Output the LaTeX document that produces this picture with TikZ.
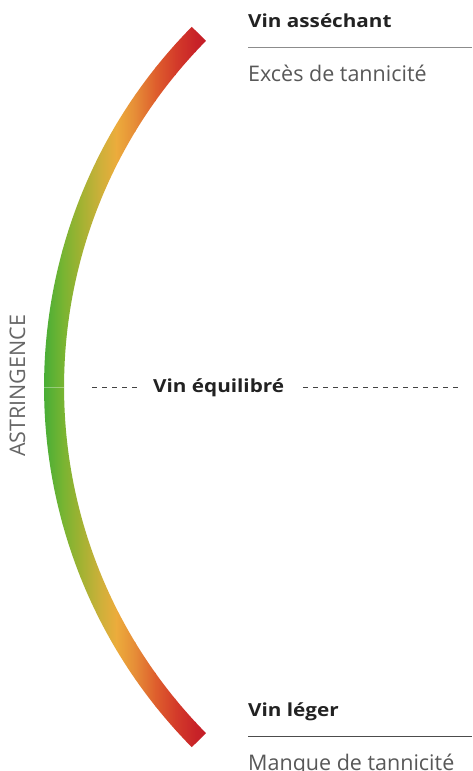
\documentclass[tikz,border=0pt]{standalone}
\usepackage{fontspec}
\setmainfont{Open Sans}
\newfontfamily\headfont{Open Sans}[FakeStretch=1.15]
\usetikzlibrary{calc}
\definecolor{ga}{RGB}{58,172,55}
\definecolor{gb}{RGB}{118,180,50}
\definecolor{gc}{RGB}{160,178,50}
\definecolor{gd}{RGB}{205,176,58}
\definecolor{ge}{RGB}{236,172,60}
\definecolor{gf}{RGB}{230,140,55}
\definecolor{gg}{RGB}{222,95,45}
\definecolor{gh}{RGB}{212,60,42}
\definecolor{gi}{RGB}{200,35,40}
\definecolor{gj}{RGB}{192,25,38}
\definecolor{darktxt}{RGB}{34,34,34}
\definecolor{lighttxt}{RGB}{88,88,88}
\tikzset{
  headtxt/.style={anchor=base west, inner sep=0pt, text=darktxt, font=\fontsize{18}{22}\headfont\bfseries},
  subtxt/.style={anchor=base west, inner sep=0pt, text=lighttxt, font=\fontsize{21.5}{24}\selectfont},
  rule/.style={line width=1.1pt},
  dashrule/.style={line width=0.9pt, draw=darktxt!85, dash pattern=on 5pt off 5pt},
}
\begin{document}
\begin{tikzpicture}[x=1pt,y=-1pt]
\useasboundingbox[fill=white] (0,0) rectangle (472,771);
\coordinate (C) at (557,387);
% gradient band
\begin{scope}
\clip (C) ++(135.4:513) arc[start angle=135.4,end angle=224.6,radius=513]
  -- ($(C)+(224.6:493)$) arc[start angle=224.6,end angle=135.4,radius=493] -- cycle;
\foreach \xa/\ca/\xb/\cb in {38/ga/62/gb,62/gb/80/gc,80/gc/100/gd,100/gd/116/ge,116/ge/135/gf,135/gf/155/gg,155/gg/175/gh,175/gh/195/gi,195/gi/214/gj}
  \shade[left color=\ca,right color=\cb] (\xa,0) rectangle (\xb+0.5,771);
\end{scope}
\coordinate (sa) at (44,387);
\coordinate (sb) at (64,387);
\draw[white,opacity=0.35,line width=0.6pt] (sa) -- (sb);
% top
\node[headtxt] (t1) at (248,27.3) {Vin asséchant};
\coordinate (r1a) at (248,47.7);
\coordinate (r1b) at (472,47.7);
\draw[rule, draw=black!45] (r1a) -- (r1b);
\node[subtxt] (t2) at (248,81) {Excès de tannicité};
% middle
\node[headtxt] (eq) at (153,392.7) {Vin équilibré};
\coordinate (dl1) at (92,387);
\coordinate (dl2) at (137,387);
\coordinate (dr1) at (303,387);
\coordinate (dr2) at (460,387);
\draw[dashrule] (dl1) -- (dl2);
\draw[dashrule] (dr1) -- (dr2);
% bottom
\node[headtxt] (b1) at (248,716) {Vin léger};
\coordinate (r2a) at (248,736.7);
\coordinate (r2b) at (472,736.7);
\draw[rule, draw=black!70] (r2a) -- (r2b);
\node[subtxt] (b2) at (248,770) {Manque de tannicité};
% axis label
\node[subtxt, rotate=90, text=black!60, font=\fontsize{21.5}{24}\selectfont] (ax) at (25,457) {ASTRINGENCE};
\end{tikzpicture}
\end{document}
